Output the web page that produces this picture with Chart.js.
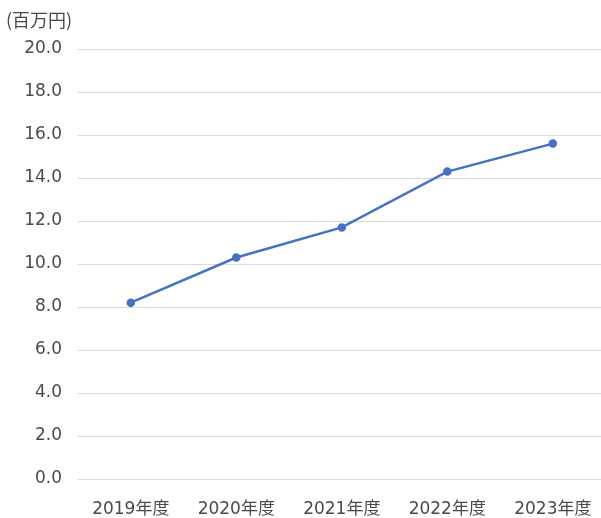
<!DOCTYPE html>
<html>
<head>
<meta charset="utf-8">
<script src="https://cdn.jsdelivr.net/npm/chart.js@4"></script>
<style>
  html, body { margin: 0; padding: 0; background: #fff; overflow: hidden; width: 601px; height: 518px; }
  #wrap { position: relative; width: 601px; height: 518px; overflow: hidden; }
  canvas { display: block; }
</style>
</head>
<body>
<div id="wrap"><canvas id="c" width="612" height="518" role="img" aria-label="売上推移 2019年度〜2023年度（百万円）"></canvas></div>
<script>
const categories = ['2019年度', '2020年度', '2021年度', '2022年度', '2023年度']
const values = [8.2, 10.3, 11.7, 14.3, 15.6]
const unitLabel = '(百万円)'

const FONT = '"DejaVu Sans", "Noto Sans CJK JP", sans-serif'
const TEXT = '#4a4a4a'

// unit caption above the y axis
const unitPlugin = {
  id: 'unit',
  afterDraw(chart) {
    const g = chart.ctx
    g.save()
    g.font = '18px "Noto Sans CJK JP", sans-serif'
    g.fillStyle = TEXT
    g.textAlign = 'left'
    g.textBaseline = 'middle'
    g.fillText(unitLabel, 6, 20)
    g.restore()
  }
}

// canvas is a few px wider than the page so the plot runs off the right edge like the source
new Chart(document.getElementById('c'), {
  type: 'line',
  data: {
    labels: categories,
    datasets: [{
      label: '百万円',
      data: values,
      borderColor: '#4472C4',
      backgroundColor: '#4472C4',
      borderWidth: 2.5,
      pointRadius: 3,
      pointHoverRadius: 3,
      tension: 0
    }]
  },
  options: {
    responsive: false,
    animation: false,
    layout: { padding: { top: 49, right: 0, bottom: 0, left: 0 } },
    plugins: {
      legend: { display: false },
      tooltip: { enabled: false }
    },
    scales: {
      x: {
        offset: true,
        title: { display: true, text: '年度', color: 'rgba(0,0,0,0)', font: { size: 1 }, padding: 0 },
        grid: { display: false, drawTicks: false },
        border: { display: false },
        ticks: { color: TEXT, font: { family: FONT, size: 17 }, padding: 20, maxRotation: 0 },
        afterFit(s) { s.height = 39 }
      },
      y: {
        min: 0,
        max: 20,
        title: { display: true, text: '百万円', color: 'rgba(0,0,0,0)', font: { size: 1 }, padding: 0 },
        grid: { color: '#d9d9d9', lineWidth: 1, drawTicks: false },
        border: { display: false },
        ticks: {
          stepSize: 2,
          color: TEXT,
          font: { family: FONT, size: 17 },
          padding: 16,
          callback: v => v.toFixed(1)
        },
        afterFit(s) { s.width = 78 }
      }
    }
  },
  plugins: [unitPlugin]
})
</script>
</body>
</html>
